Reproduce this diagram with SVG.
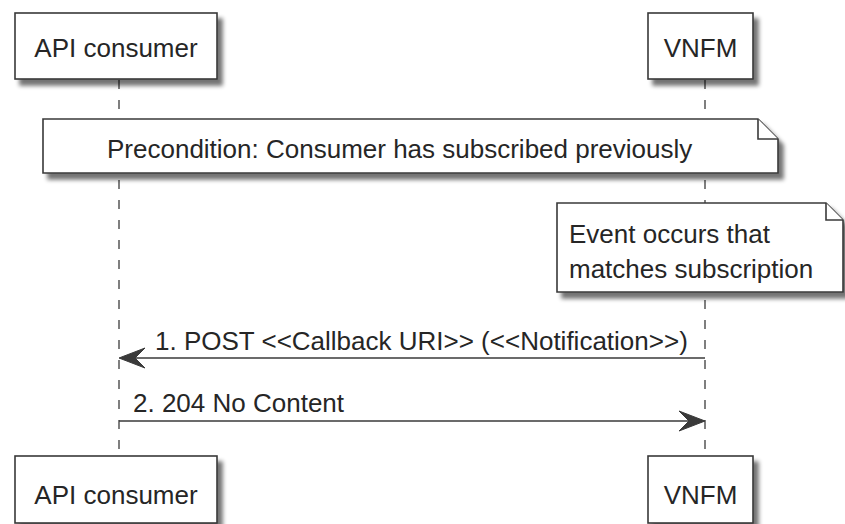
<svg xmlns="http://www.w3.org/2000/svg" width="845" height="524" viewBox="0 0 845 524">
<style>
  .box { fill: #ffffff; stroke: #3a3a3a; stroke-width: 1.6; }
  .life { stroke: #555555; stroke-width: 1.5; stroke-dasharray: 9 11; fill: none; }
  .msg { stroke: #3a3a3a; stroke-width: 1.6; fill: none; }
  .head { fill: #3a3a3a; stroke: #3a3a3a; stroke-width: 1; }
  .t { font-family: "Liberation Sans", Arial, sans-serif; font-size: 26px; fill: #262626; }
  .c { text-anchor: middle; }
</style>
<defs>
  <filter id="sh" x="-10%" y="-10%" width="130%" height="140%">
    <feGaussianBlur in="SourceAlpha" stdDeviation="2.2"/>
    <feOffset dx="5" dy="6" result="b"/>
    <feComponentTransfer><feFuncA type="linear" slope="0.55"/></feComponentTransfer>
    <feMerge><feMergeNode/><feMergeNode in="SourceGraphic"/></feMerge>
  </filter>
</defs>
<g id="lifelines">
  <line class="life" x1="119" y1="80" x2="119" y2="456"/>
  <line class="life" x1="705" y1="80" x2="705" y2="456"/>
</g>
<g id="participant-api-top">
  <rect class="box" x="15" y="13" width="202" height="66" filter="url(#sh)"/>
  <text class="t c" x="116" y="57">API consumer</text>
</g>
<g id="participant-vnfm-top">
  <rect class="box" x="648" y="13" width="105" height="66" filter="url(#sh)"/>
  <text class="t c" x="700.5" y="57">VNFM</text>
</g>
<g id="note-precondition">
  <path class="box" d="M43,119 L758,119 L778,139 L778,173 L43,173 Z" filter="url(#sh)"/>
  <path class="box" d="M758,119 L758,139 L778,139" fill="none"/>
  <text class="t" x="107" y="158">Precondition: Consumer has subscribed previously</text>
</g>
<g id="note-event">
  <path class="box" d="M557,203 L826,203 L843,220 L843,292 L557,292 Z" filter="url(#sh)"/>
  <path class="box" d="M826,203 L826,220 L843,220" fill="none"/>
  <text class="t" x="569" y="243">Event occurs that</text>
  <text class="t" x="569" y="278">matches subscription</text>
</g>
<g id="connectors">
  <line class="msg" x1="705" y1="358" x2="122" y2="358"/>
  <polygon class="head" points="119,358 145,348 135,358 145,368"/>
  <text class="t" x="155" y="350">1. POST &lt;&lt;Callback URI&gt;&gt; (&lt;&lt;Notification&gt;&gt;)</text>
  <line class="msg" x1="119" y1="421" x2="702" y2="421"/>
  <polygon class="head" points="705,421 679,411 689,421 679,431"/>
  <text class="t" x="133" y="412">2. 204 No Content</text>
</g>
<g id="participant-api-bottom">
  <rect class="box" x="15" y="456" width="202" height="67" filter="url(#sh)"/>
  <text class="t c" x="116" y="504">API consumer</text>
</g>
<g id="participant-vnfm-bottom">
  <rect class="box" x="648" y="456" width="105" height="67" filter="url(#sh)"/>
  <text class="t c" x="700.5" y="504">VNFM</text>
</g>
</svg>
